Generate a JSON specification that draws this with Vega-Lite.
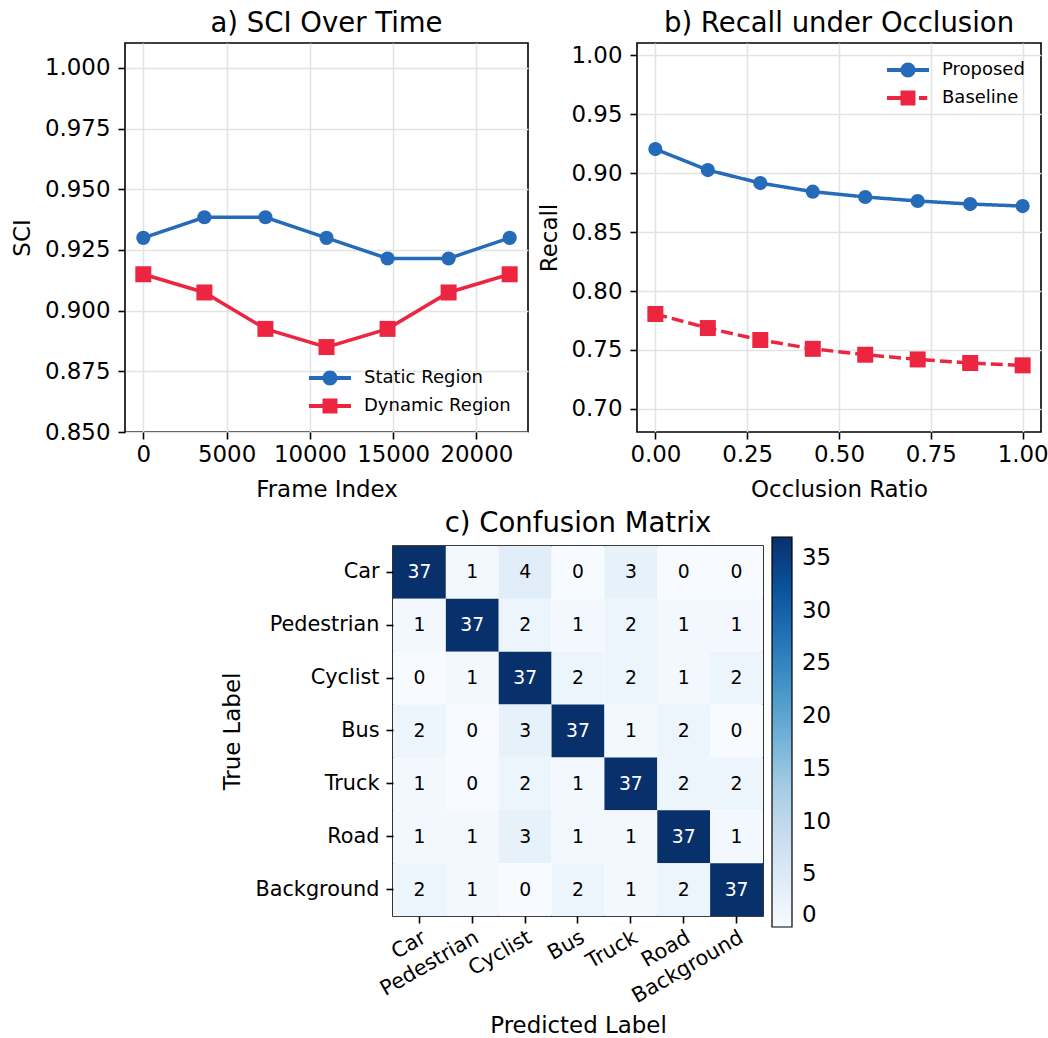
{
  "$schema": "https://vega.github.io/schema/vega-lite/v6.json",
  "background": "white",
  "padding": {"left": 10, "top": 8, "right": 5, "bottom": 5},
  "config": {
    "font": "DejaVu Sans",
    "view": {"stroke": "black", "strokeWidth": 1.6},
    "axis": {
      "labelFont": "DejaVu Sans", "labelFontSize": 22.9, "labelColor": "black",
      "titleFont": "DejaVu Sans", "titleFontSize": 22.9, "titleFontWeight": "normal", "titleColor": "black",
      "tickColor": "black", "tickSize": 7, "tickWidth": 1.6, "domain": false,
      "gridColor": "#e3e3e3", "gridWidth": 1.5, "labelPadding": 8, "titlePadding": 10
    },
    "axisX": {"labelPadding": 4, "titlePadding": 13},
    "title": {"font": "DejaVu Sans", "fontSize": 27.5, "fontWeight": "normal", "color": "black", "offset": 6},
    "legend": {"labelFont": "DejaVu Sans", "labelColor": "black"}
  },
  "spacing": 5,
  "resolve": {"scale": {"color": "independent"}, "legend": {"color": "independent"}},
  "vconcat": [
    {
      "resolve": {"scale": {"color": "independent", "strokeDash": "independent"}, "legend": {"color": "independent"}},
      "hconcat": [
        {
          "width": 403, "height": 389,
          "title": "a) SCI Over Time",
          "data": {"values": [
            {"frame": 0, "sci": 0.930, "series": "Static Region"},
            {"frame": 3667, "sci": 0.9385, "series": "Static Region"},
            {"frame": 7333, "sci": 0.9385, "series": "Static Region"},
            {"frame": 11000, "sci": 0.930, "series": "Static Region"},
            {"frame": 14667, "sci": 0.9215, "series": "Static Region"},
            {"frame": 18333, "sci": 0.9215, "series": "Static Region"},
            {"frame": 22000, "sci": 0.930, "series": "Static Region"},
            {"frame": 0, "sci": 0.915, "series": "Dynamic Region"},
            {"frame": 3667, "sci": 0.9075, "series": "Dynamic Region"},
            {"frame": 7333, "sci": 0.8925, "series": "Dynamic Region"},
            {"frame": 11000, "sci": 0.885, "series": "Dynamic Region"},
            {"frame": 14667, "sci": 0.8925, "series": "Dynamic Region"},
            {"frame": 18333, "sci": 0.9075, "series": "Dynamic Region"},
            {"frame": 22000, "sci": 0.915, "series": "Dynamic Region"}
          ]},
          "encoding": {
            "x": {"field": "frame", "type": "quantitative",
              "scale": {"domain": [-1100, 23100], "nice": false, "zero": false},
              "axis": {"title": "Frame Index", "values": [0, 5000, 10000, 15000, 20000], "format": "d"}},
            "y": {"field": "sci", "type": "quantitative",
              "scale": {"domain": [0.85, 1.0103], "nice": false, "zero": false},
              "axis": {"title": "SCI", "values": [0.85, 0.875, 0.9, 0.925, 0.95, 0.975, 1.0], "format": ".3f"}},
            "color": {"field": "series", "type": "nominal",
              "scale": {"domain": ["Static Region", "Dynamic Region"], "range": ["#266aba", "#ec2640"]},
              "legend": {
                "title": null, "orient": "bottom-right", "offset": 17,
                "labelFontSize": 18, "symbolSize": 484, "labelOffset": 23, "rowPadding": 8,
                "encode": {"symbols": {"update": {
                  "shape": {"signal": "datum.value === 'Static Region' ? 'M-1.909,-0.18L1.909,-0.18L1.909,0.18L-1.909,0.18Z M-0.68,0A0.68,0.68 0 1,1 0.68,0A0.68,0.68 0 1,1 -0.68,0Z' : 'M-1.909,-0.18L1.909,-0.18L1.909,0.18L-1.909,0.18Z M-0.68,-0.68L0.68,-0.68L0.68,0.68L-0.68,0.68Z'"},
                  "fill": {"signal": "datum.value === 'Static Region' ? '#266aba' : '#ec2640'"},
                  "strokeWidth": {"value": 0},
                  "opacity": {"value": 1}
                }}}
              }}
          },
          "layer": [
            {"mark": {"type": "line", "strokeWidth": 3.5}},
            {"transform": [{"filter": "datum.series === 'Static Region'"}],
             "mark": {"type": "point", "filled": true, "opacity": 1, "shape": "circle", "size": 201}},
            {"transform": [{"filter": "datum.series === 'Dynamic Region'"}],
             "mark": {"type": "point", "filled": true, "opacity": 1, "shape": "square", "size": 256}}
          ]
        },
        {
          "width": 404, "height": 389,
          "title": "b) Recall under Occlusion",
          "data": {"values": [
            {"ratio": 0, "recall": 0.9203, "method": "Proposed"},
            {"ratio": 0.142857, "recall": 0.9025, "method": "Proposed"},
            {"ratio": 0.285714, "recall": 0.8915, "method": "Proposed"},
            {"ratio": 0.428571, "recall": 0.8842, "method": "Proposed"},
            {"ratio": 0.571429, "recall": 0.8797, "method": "Proposed"},
            {"ratio": 0.714286, "recall": 0.8763, "method": "Proposed"},
            {"ratio": 0.857143, "recall": 0.8737, "method": "Proposed"},
            {"ratio": 1, "recall": 0.872, "method": "Proposed"},
            {"ratio": 0, "recall": 0.7805, "method": "Baseline"},
            {"ratio": 0.142857, "recall": 0.7686, "method": "Baseline"},
            {"ratio": 0.285714, "recall": 0.7585, "method": "Baseline"},
            {"ratio": 0.428571, "recall": 0.751, "method": "Baseline"},
            {"ratio": 0.571429, "recall": 0.746, "method": "Baseline"},
            {"ratio": 0.714286, "recall": 0.742, "method": "Baseline"},
            {"ratio": 0.857143, "recall": 0.739, "method": "Baseline"},
            {"ratio": 1, "recall": 0.737, "method": "Baseline"}
          ]},
          "encoding": {
            "x": {"field": "ratio", "type": "quantitative",
              "scale": {"domain": [-0.05, 1.05], "nice": false, "zero": false},
              "axis": {"title": "Occlusion Ratio", "values": [0, 0.25, 0.5, 0.75, 1.0], "format": ".2f"}},
            "y": {"field": "recall", "type": "quantitative",
              "scale": {"domain": [0.6805, 1.0102], "nice": false, "zero": false},
              "axis": {"title": "Recall", "values": [0.7, 0.75, 0.8, 0.85, 0.9, 0.95, 1.0], "format": ".2f"}},
            "color": {"field": "method", "type": "nominal",
              "scale": {"domain": ["Proposed", "Baseline"], "range": ["#266aba", "#ec2640"]},
              "legend": {
                "title": null, "orient": "top-right", "offset": 16,
                "labelFontSize": 18, "symbolSize": 484, "labelOffset": 23, "rowPadding": 8,
                "encode": {"symbols": {"update": {
                  "shape": {"signal": "datum.value === 'Proposed' ? 'M-1.909,-0.18L1.909,-0.18L1.909,0.18L-1.909,0.18Z M-0.68,0A0.68,0.68 0 1,1 0.68,0A0.68,0.68 0 1,1 -0.68,0Z' : 'M-1.909,-0.18L-0.68,-0.18L-0.68,0.18L-1.909,0.18Z M1.0,-0.18L1.75,-0.18L1.75,0.18L1.0,0.18Z M-0.68,-0.68L0.68,-0.68L0.68,0.68L-0.68,0.68Z'"},
                  "fill": {"signal": "datum.value === 'Proposed' ? '#266aba' : '#ec2640'"},
                  "strokeWidth": {"value": 0},
                  "strokeDash": {"value": [1, 0]},
                  "opacity": {"value": 1}
                }}}
              }}
          },
          "layer": [
            {"mark": {"type": "line", "strokeWidth": 3.5},
             "encoding": {
               "strokeDash": {"field": "method", "type": "nominal", "scale": {"domain": ["Proposed", "Baseline"], "range": [[1, 0], [12, 5]]}, "legend": null}
             }},
            {"transform": [{"filter": "datum.method === 'Proposed'"}],
             "mark": {"type": "point", "filled": true, "opacity": 1, "shape": "circle", "size": 201}},
            {"transform": [{"filter": "datum.method === 'Baseline'"}],
             "mark": {"type": "point", "filled": true, "opacity": 1, "shape": "square", "size": 256}}
          ]
        }
      ],
      "spacing": 109,
      "bounds": "flush"
    },
    {
      "resolve": {"scale": {"color": "independent"}, "legend": {"color": "independent"}},
      "hconcat": [
        {
          "width": 268, "height": 10,
          "view": {"stroke": null, "fill": "white"},
          "data": {"values": [{"a": 1}]},
          "mark": {"type": "point", "opacity": 0},
          "encoding": {}
        },
        {
          "width": 370, "height": 370,
          "title": {"text": "c) Confusion Matrix", "offset": 0},
          "data": {"values": [
            {"t": "Car", "p": "Car", "n": 37}, {"t": "Car", "p": "Pedestrian", "n": 1}, {"t": "Car", "p": "Cyclist", "n": 4}, {"t": "Car", "p": "Bus", "n": 0}, {"t": "Car", "p": "Truck", "n": 3}, {"t": "Car", "p": "Road", "n": 0}, {"t": "Car", "p": "Background", "n": 0},
            {"t": "Pedestrian", "p": "Car", "n": 1}, {"t": "Pedestrian", "p": "Pedestrian", "n": 37}, {"t": "Pedestrian", "p": "Cyclist", "n": 2}, {"t": "Pedestrian", "p": "Bus", "n": 1}, {"t": "Pedestrian", "p": "Truck", "n": 2}, {"t": "Pedestrian", "p": "Road", "n": 1}, {"t": "Pedestrian", "p": "Background", "n": 1},
            {"t": "Cyclist", "p": "Car", "n": 0}, {"t": "Cyclist", "p": "Pedestrian", "n": 1}, {"t": "Cyclist", "p": "Cyclist", "n": 37}, {"t": "Cyclist", "p": "Bus", "n": 2}, {"t": "Cyclist", "p": "Truck", "n": 2}, {"t": "Cyclist", "p": "Road", "n": 1}, {"t": "Cyclist", "p": "Background", "n": 2},
            {"t": "Bus", "p": "Car", "n": 2}, {"t": "Bus", "p": "Pedestrian", "n": 0}, {"t": "Bus", "p": "Cyclist", "n": 3}, {"t": "Bus", "p": "Bus", "n": 37}, {"t": "Bus", "p": "Truck", "n": 1}, {"t": "Bus", "p": "Road", "n": 2}, {"t": "Bus", "p": "Background", "n": 0},
            {"t": "Truck", "p": "Car", "n": 1}, {"t": "Truck", "p": "Pedestrian", "n": 0}, {"t": "Truck", "p": "Cyclist", "n": 2}, {"t": "Truck", "p": "Bus", "n": 1}, {"t": "Truck", "p": "Truck", "n": 37}, {"t": "Truck", "p": "Road", "n": 2}, {"t": "Truck", "p": "Background", "n": 2},
            {"t": "Road", "p": "Car", "n": 1}, {"t": "Road", "p": "Pedestrian", "n": 1}, {"t": "Road", "p": "Cyclist", "n": 3}, {"t": "Road", "p": "Bus", "n": 1}, {"t": "Road", "p": "Truck", "n": 1}, {"t": "Road", "p": "Road", "n": 37}, {"t": "Road", "p": "Background", "n": 1},
            {"t": "Background", "p": "Car", "n": 2}, {"t": "Background", "p": "Pedestrian", "n": 1}, {"t": "Background", "p": "Cyclist", "n": 0}, {"t": "Background", "p": "Bus", "n": 2}, {"t": "Background", "p": "Truck", "n": 1}, {"t": "Background", "p": "Road", "n": 2}, {"t": "Background", "p": "Background", "n": 37}
          ]},
          "encoding": {
            "x": {"field": "p", "type": "nominal",
              "sort": ["Car", "Pedestrian", "Cyclist", "Bus", "Truck", "Road", "Background"],
              "scale": {"paddingInner": 0, "paddingOuter": 0},
              "axis": {"title": "Predicted Label", "labelFontSize": 20.8, "labelAngle": -30, "labelAlign": "right", "labelBaseline": "top", "labelPadding": 4, "titlePadding": 8}},
            "y": {"field": "t", "type": "nominal",
              "sort": ["Car", "Pedestrian", "Cyclist", "Bus", "Truck", "Road", "Background"],
              "scale": {"paddingInner": 0, "paddingOuter": 0},
              "axis": {"title": "True Label", "labelFontSize": 20.8, "labelPadding": 7}}
          },
          "layer": [
            {"mark": {"type": "rect"},
             "encoding": {
               "color": {"field": "n", "type": "quantitative",
                 "scale": {"domain": [0, 4.625, 9.25, 13.875, 18.5, 23.125, 27.75, 32.375, 37],
                           "range": ["#f7fbff", "#deebf7", "#c6dbef", "#9ecae1", "#6baed6", "#4292c6", "#2171b5", "#08519c", "#08306b"]},
                 "legend": {"title": null, "orient": "none", "legendX": 379, "legendY": -9, "direction": "vertical",
                   "gradientLength": 390, "gradientThickness": 20, "gradientStrokeColor": "black", "gradientStrokeWidth": 1.2,
                   "values": [0, 5, 10, 15, 20, 25, 30, 35], "labelFontSize": 22.9, "labelOffset": 10, "labelBaseline": "middle", "labelOverlap": false}}
             }},
            {"mark": {"type": "text", "fontSize": 18.75, "font": "DejaVu Sans"},
             "encoding": {
               "text": {"field": "n", "type": "quantitative"},
               "color": {"condition": {"test": "datum.n > 18.5", "value": "white"}, "value": "black"}
             }}
          ]
        }
      ],
      "spacing": 0,
      "bounds": "flush"
    }
  ]
}
